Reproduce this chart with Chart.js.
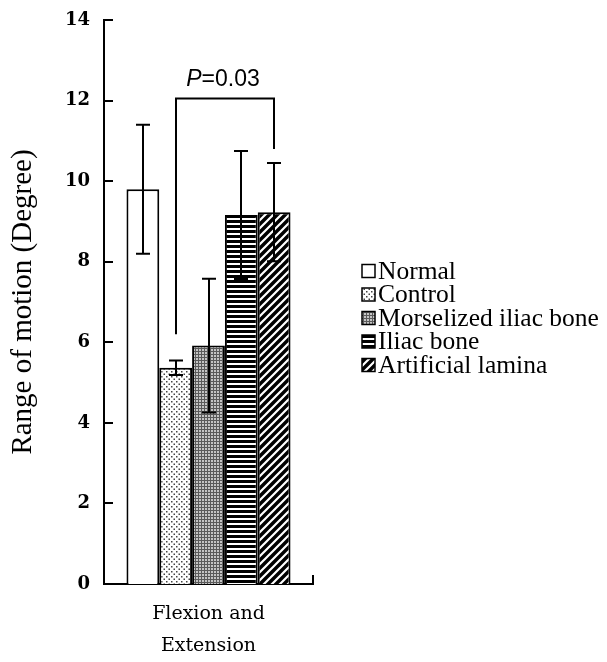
<!DOCTYPE html>
<html>
<head>
<meta charset="utf-8">
<script src="https://cdn.jsdelivr.net/npm/chart.js@4.4.0/dist/chart.umd.min.js"></script>
<style>
  html, body { margin: 0; padding: 0; background: #fff; }
  #wrap { width: 607px; height: 662px; position: relative; }
</style>
</head>
<body>
<div id="wrap"><canvas id="romChart"></canvas></div>
<script>
// data
const categories = [['Flexion and', 'Extension']];
const groups = ['Normal', 'Control', 'Morselized iliac bone', 'Iliac bone', 'Artificial lamina'];
const means = [9.8, 5.37, 5.92, 9.16, 9.23];
const errors = [1.6, 0.18, 1.66, 1.59, 1.22];
const yTicks = [0, 2, 4, 6, 8, 10, 12, 14];
// significance bracket: between Control and Artificial lamina
const bracketPair = [1, 4];
const bracketLevel = 12.05;
const bracketEnds = [6.2, 10.8];
const pText = ['P', '=0.03'];

// hatch patterns
function makePattern(w, h, draw) {
    const c = document.createElement('canvas');
    c.width = w; c.height = h;
    const g = c.getContext('2d');
    draw(g, w, h);
    return g.createPattern(c, 'repeat');
}
const patterns = [
    '#ffffff',
    makePattern(5, 5, function(g) {
        g.fillStyle = '#fff'; g.fillRect(0, 0, 5, 5);
        g.fillStyle = '#444';
        g.fillRect(1, 1, 1.5, 1.5);
        g.fillRect(3.5, 3.5, 1.5, 1.5);
    }),
    makePattern(3, 3, function(g) {
        g.fillStyle = '#c4c4c4'; g.fillRect(0, 0, 3, 3);
        g.fillStyle = '#5a5a5a';
        g.fillRect(0, 0, 3, 1);
        g.fillRect(0, 0, 1, 3);
    }),
    makePattern(4, 5, function(g) {
        g.fillStyle = '#fff'; g.fillRect(0, 0, 4, 5);
        g.fillStyle = '#000'; g.fillRect(0, 0, 4, 3);
    }),
    makePattern(8, 8, function(g) {
        g.fillStyle = '#000'; g.fillRect(0, 0, 8, 8);
        g.strokeStyle = '#fff'; g.lineWidth = 2.2;
        g.beginPath();
        g.moveTo(0, 8); g.lineTo(8, 0);
        g.moveTo(-1, 1); g.lineTo(1, -1);
        g.moveTo(7, 9); g.lineTo(9, 7);
        g.stroke();
    })
];

const extras = {
    id: 'extras',
    afterDatasetsDraw(chart) {
        const ctx = chart.ctx;
        const ys = chart.scales.y;
        const area = chart.chartArea;
        ctx.save();
        ctx.strokeStyle = '#000';
        ctx.lineWidth = 2;

        // error bars
        means.forEach(function(m, i) {
            const bar = chart.getDatasetMeta(i).data[0];
            const x = Math.round(bar.x);
            const top = ys.getPixelForValue(m + errors[i]);
            const bot = ys.getPixelForValue(m - errors[i]);
            ctx.beginPath();
            ctx.moveTo(x, top); ctx.lineTo(x, bot);
            ctx.moveTo(x - 7, top); ctx.lineTo(x + 7, top);
            ctx.moveTo(x - 7, bot); ctx.lineTo(x + 7, bot);
            ctx.stroke();
        });

        // bracket
        const xl = Math.round(chart.getDatasetMeta(bracketPair[0]).data[0].x);
        const xr = Math.round(chart.getDatasetMeta(bracketPair[1]).data[0].x);
        const yb = ys.getPixelForValue(bracketLevel);
        ctx.beginPath();
        ctx.moveTo(xl, ys.getPixelForValue(bracketEnds[0]));
        ctx.lineTo(xl, yb);
        ctx.lineTo(xr, yb);
        ctx.lineTo(xr, ys.getPixelForValue(bracketEnds[1]));
        ctx.stroke();

        ctx.fillStyle = '#000';
        ctx.textBaseline = 'alphabetic';
        ctx.font = 'italic 23px "Liberation Sans", Arial, sans-serif';
        const w1 = ctx.measureText(pText[0]).width;
        ctx.font = '23px "Liberation Sans", Arial, sans-serif';
        const w2 = ctx.measureText(pText[1]).width;
        let tx = (xl + xr) / 2 - (w1 + w2) / 2 - 2;
        ctx.font = 'italic 23px "Liberation Sans", Arial, sans-serif';
        ctx.fillText(pText[0], tx, yb - 13);
        ctx.font = '23px "Liberation Sans", Arial, sans-serif';
        ctx.fillText(pText[1], tx + w1, yb - 13);

        // inward tick marks
        ctx.beginPath();
        yTicks.forEach(function(v) {
            const y = Math.round(ys.getPixelForValue(v)) ;
            if (v === 0) return;
            ctx.moveTo(area.left, y);
            ctx.lineTo(area.left + 9, y);
        });
        ctx.moveTo(area.right, area.bottom);
        ctx.lineTo(area.right, area.bottom - 9);
        ctx.stroke();

        // legend
        const lx = 362, ly = 271, step = 23.5, box = 13;
        ctx.font = '25.5px "Liberation Serif", "Times New Roman", serif';
        ctx.textBaseline = 'middle';
        groups.forEach(function(name, i) {
            const cy = ly + i * step;
            ctx.fillStyle = patterns[i];
            ctx.fillRect(lx, cy - box / 2, box, box);
            ctx.lineWidth = 1.5;
            ctx.strokeRect(lx, cy - box / 2, box, box);
            ctx.fillStyle = '#000';
            ctx.fillText(name, lx + box + 3, cy + 1);
        });
        ctx.restore();
    }
};

new Chart(document.getElementById('romChart'), {
    type: 'bar',
    data: {
        labels: categories,
        datasets: groups.map(function(name, i) {
            return {
                label: name,
                data: [means[i]],
                backgroundColor: patterns[i],
                borderColor: '#000',
                borderWidth: 2,
                borderSkipped: 'start'
            };
        })
    },
    options: {
        responsive: true,
        maintainAspectRatio: false,
        animation: false,
        layout: { padding: { left: 0, top: 20, right: 294, bottom: 0 } },
        datasets: { bar: { categoryPercentage: 0.785, barPercentage: 1 } },
        plugins: {
            legend: { display: false },
            tooltip: { enabled: false }
        },
        scales: {
            x: {
                grid: { display: false, drawTicks: false },
                border: { display: true, color: '#000', width: 2 },
                ticks: {
                    color: '#000',
                    padding: 14,
                    font: { family: '"DejaVu Serif", serif', size: 19, lineHeight: 1.68 }
                },
                afterFit: function(scale) { scale.height = 78; }
            },
            y: {
                min: 0,
                max: 14,
                afterBuildTicks: function(scale) {
                    scale.ticks = yTicks.map(function(v) { return { value: v }; });
                },
                grid: { display: false, drawTicks: false },
                border: { display: true, color: '#000', width: 2 },
                ticks: {
                    color: '#000',
                    padding: 14,
                    font: { family: '"DejaVu Serif", serif', size: 18, weight: 'bold' }
                },
                title: {
                    display: true,
                    text: 'Range of motion (Degree)',
                    color: '#000',
                    padding: { top: 6, bottom: 0 },
                    font: { family: '"Liberation Serif", "Times New Roman", serif', size: 29 }
                },
                afterFit: function(scale) {
                    scale.width = 104;
                    scale.paddingTop = 0;
                    scale.paddingBottom = 0;
                }
            }
        }
    },
    plugins: [extras]
});
</script>
</body>
</html>
